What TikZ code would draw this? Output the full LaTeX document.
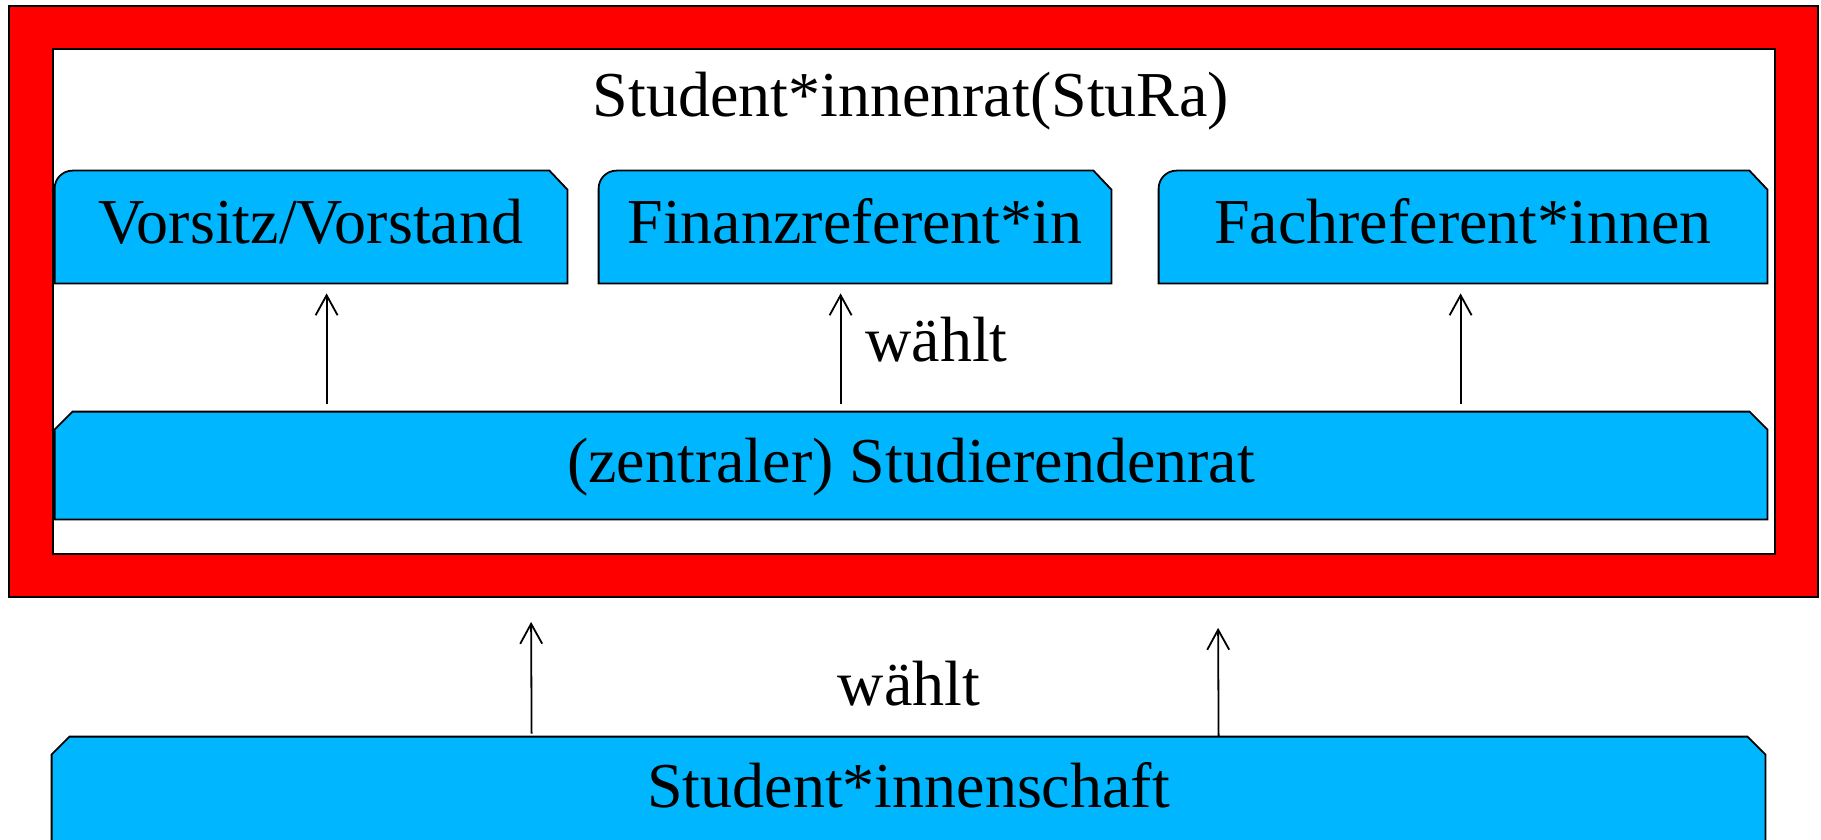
\documentclass[tikz,border=0pt]{standalone}
\usepackage{fontspec}
\setmainfont{Liberation Serif}
\usetikzlibrary{calc,arrows.meta}
\definecolor{boxblue}{RGB}{0,183,255}
\pgfdeclarelayer{back}
\pgfdeclarelayer{mid}
\pgfsetlayers{back,mid,main}
\newcommand\rtbox[1]{\path[outline] (#1.south west) -- ($(#1.north west)+(0,18)$) .. controls ($(#1.north west)+(0,8)$) and ($(#1.north west)+(8,0)$) .. ($(#1.north west)+(18,0)$) -- ($(#1.north east)+(-18,0)$) -- ($(#1.north east)+(0,19)$) -- (#1.south east) -- cycle;}
\newcommand\ccbox[1]{\path[outline] (#1.south west) -- ($(#1.north west)+(0,18)$) -- ($(#1.north west)+(18,0)$) -- ($(#1.north east)+(-18,0)$) -- ($(#1.north east)+(0,18)$) -- (#1.south east) -- cycle;}
\begin{document}
\begin{tikzpicture}[x=0.5pt,y=-0.5pt,
  lbl/.style={font=\fontsize{32}{38}\selectfont, inner sep=0pt},
  shapebox/.style={inner sep=0pt, draw=none, font=\fontsize{32}{38}\selectfont, text height=22.4pt, text depth=5.8pt},
  frame/.style={draw=black, line width=0.9pt, inner sep=0pt},
  outline/.style={fill=boxblue, draw=black, line width=0.9pt, line join=miter},
  arr/.style={-{Straight Barb[length=10pt,width=11pt]}, line width=0.9pt}]
\useasboundingbox (0,0) rectangle (1821,840);
\clip (0,0) rectangle (1821,840);

\begin{pgfonlayer}{back}
\node[frame, fill=red, minimum width=904.5pt, minimum height=295.5pt] (stura) at (913.5,301.5) {};
\node[frame, fill=white, minimum width=861pt, minimum height=252.5pt] (inner) at (914,301.5) {};
\end{pgfonlayer}

\node[lbl, anchor=base] (title) at (911,117) {Student*innenrat(StuRa)};

\node[shapebox, minimum width=256pt, minimum height=56pt] (vor) at (311,227) {Vorsitz/Vorstand};
\node[shapebox, minimum width=256pt, minimum height=56pt] (fin) at (855,227) {Finanzreferent*in};
\node[shapebox, minimum width=304pt, minimum height=56pt] (fach) at (1463,227) {Fachreferent*innen};
\node[shapebox, minimum width=856pt, minimum height=53.5pt] (sr) at (911,465.5) {(zentraler) Studierendenrat};
\node[shapebox, minimum width=856.5pt, minimum height=54pt] (sch) at (908.5,791) {Student*innenschaft};

\begin{pgfonlayer}{mid}
\rtbox{vor}
\rtbox{fin}
\rtbox{fach}
\ccbox{sr}
\ccbox{sch}
\end{pgfonlayer}

\draw[arr] ($(sr.north west)+(272,-8)$) -- ($(vor.south west)+(272,10)$);
\draw[arr] ($(sr.north west)+(786,-8)$) -- ($(fin.south west)+(242,10)$);
\draw[arr] ($(sr.north west)+(1406,-8)$) -- ($(fach.south west)+(302,10)$);
\node[lbl, anchor=base west] (w1) at (865,361) {wählt};

\draw[arr] ($(sch.north west)+(480,-3)$) -- ($(stura.south west)+(523,24)$);
\draw[arr] ($(sch.north west)+(1167,0)$) -- ($(stura.south west)+(1210,30)$);
\node[lbl, anchor=base] (w2) at (909,705) {wählt};
\end{tikzpicture}
\end{document}
